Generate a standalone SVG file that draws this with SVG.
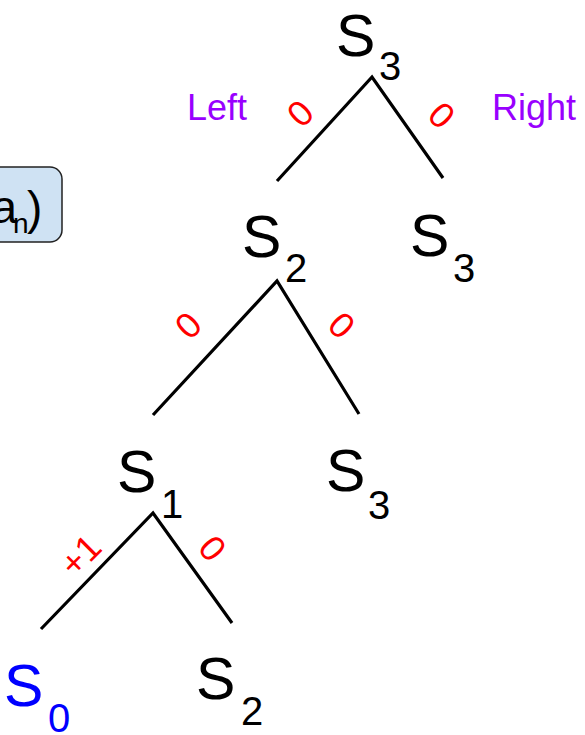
<svg xmlns="http://www.w3.org/2000/svg" width="585" height="735" viewBox="0 0 585 735">
<style>
.s{font-family:"Liberation Sans",Arial,sans-serif;font-size:59px;fill:#000}
.sub{font-family:"Liberation Sans",Arial,sans-serif;font-size:40px;fill:#000}
.w{font-family:"Liberation Sans",Arial,sans-serif;font-size:36px;fill:#ff0000;text-anchor:middle}
.dir{font-family:"Liberation Sans",Arial,sans-serif;font-size:36px;fill:#9900ff}
.e{stroke:#000;stroke-width:3.2;fill:none;stroke-linecap:butt}
</style>
<rect width="585" height="735" fill="#fff"/>
<g id="box">
<rect x="-20" y="167" width="82" height="75" rx="12" ry="12" fill="#cfe2f3" stroke="#222" stroke-width="1.5"/>
<text x="17" y="223" class="s" style="font-size:46px" text-anchor="end">a</text>
<text x="13" y="233" class="sub" style="font-size:28px">n</text>
<text x="27" y="224" class="s" style="font-size:46px">)</text>
</g>
<g id="connectors">
<path class="e" d="M277,181 L372,77 L443,178"/>
<path class="e" d="M153,415 L277,281 L359,414"/>
<path class="e" d="M41,629 L153,513 L232,623"/>
</g>
<g id="weights">
<text class="w" transform="translate(300,113) rotate(-45)" y="13">0</text>
<text class="w" transform="translate(442,115) rotate(45)" y="13">0</text>
<text class="w" transform="translate(188,325) rotate(-45)" y="13">0</text>
<text class="w" transform="translate(342,325) rotate(45)" y="13">0</text>
<text class="w" transform="translate(80,555) rotate(-45)" y="13">+1</text>
<text class="w" transform="translate(213,548) rotate(50)" y="13">0</text>
</g>
<g id="labels">
<text class="dir" x="187" y="120">Left</text>
<text class="dir" x="492" y="120">Right</text>
</g>
<g id="n-root"><text class="s" x="336" y="56">S</text><text class="sub" x="379" y="80">3</text></g>
<g id="n-l"><text class="s" x="242" y="257">S</text><text class="sub" x="285" y="282">2</text></g>
<g id="n-r"><text class="s" x="410" y="256">S</text><text class="sub" x="453" y="282">3</text></g>
<g id="n-ll"><text class="s" x="117" y="492">S</text><text class="sub" x="161" y="518">1</text></g>
<g id="n-lr"><text class="s" x="326" y="491">S</text><text class="sub" x="368" y="519">3</text></g>
<g id="n-lll"><text class="s" x="4" y="706" style="fill:#0000ff">S</text><text class="sub" x="48" y="732" style="fill:#0000ff">0</text></g>
<g id="n-llr"><text class="s" x="196" y="699">S</text><text class="sub" x="241" y="725">2</text></g>
</svg>
